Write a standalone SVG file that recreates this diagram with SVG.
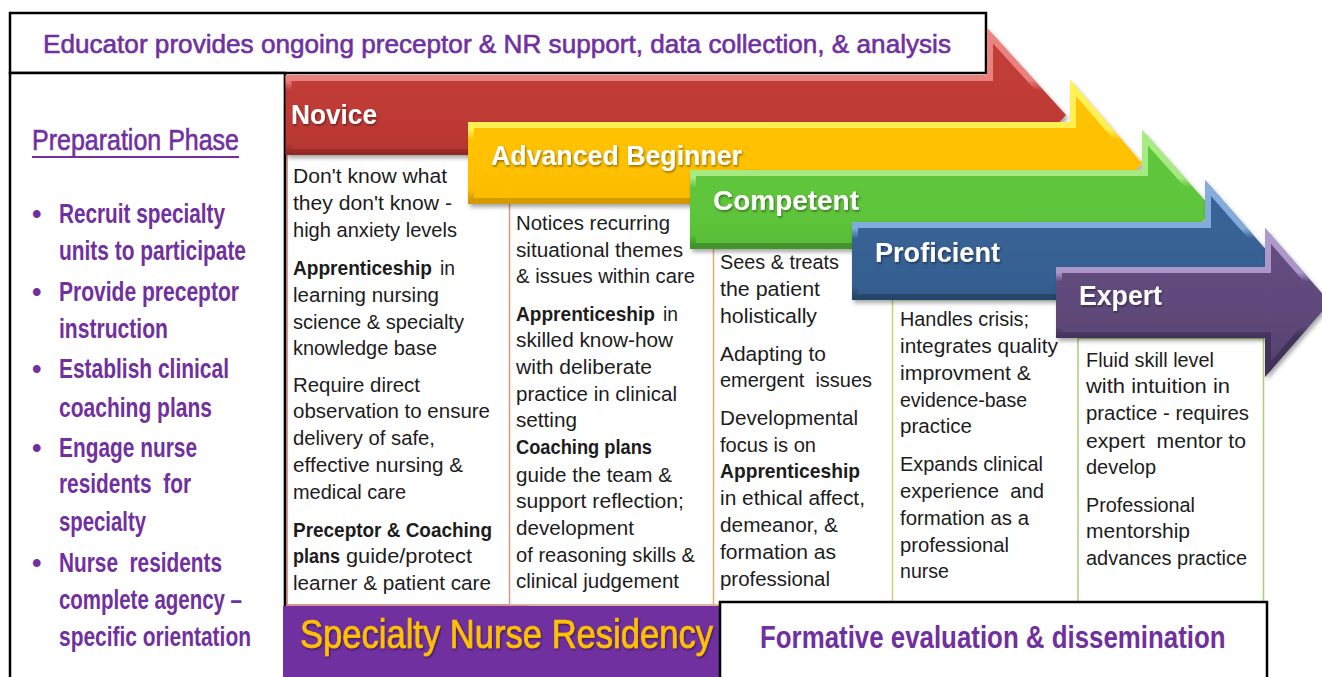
<svg xmlns="http://www.w3.org/2000/svg" xmlns:xlink="http://www.w3.org/1999/xlink" width="1322" height="677" viewBox="0 0 1322 677">
  <style>
    .t { font-family: 'Liberation Sans', Arial, sans-serif; font-size: 20.5px; fill: #1c1c1c; }
    .b { font-weight: bold; }
    .pre { white-space: pre; }
    .lab { font-family: 'Liberation Sans', Arial, sans-serif; font-weight: bold; font-size: 27px; fill: #ffffff; }
    .nar { font-family: 'Liberation Sans Narrow', 'Liberation Sans', Arial, sans-serif; }
    .prep { font-size: 27px; font-weight: bold; fill: #7030A0; }
    .heavy { stroke: #7030A0; stroke-width: 0.6; }
    .frame { fill: #ffffff; stroke: #000000; stroke-width: 2.5; }
    .box { fill: #ffffff; stroke-width: 1.5; }
  </style>
  <defs>
    <filter id="shadow" x="-5%" y="-10%" width="115%" height="130%">
      <feDropShadow dx="2" dy="3" stdDeviation="2" flood-color="#000" flood-opacity="0.35"/>
    </filter>
    <filter id="tshadow" x="-5%" y="-20%" width="110%" height="150%">
      <feDropShadow dx="1" dy="1.5" stdDeviation="0.8" flood-color="#000" flood-opacity="0.45"/>
    </filter>

    <!-- arrow outlines -->
    <path id="arrRed" d="M285.5,75 H987 V28 L1066,115 L987,202 V155 H285.5 Z"/>
    <path id="arrYellow" d="M468,122 H1070 V80 L1142,163 L1070,246 V204 H468 Z"/>
    <path id="arrGreen" d="M690,170 H1142 V130 L1213,209.5 L1142,289 V249 H690 Z"/>
    <path id="arrBlue" d="M852,222 H1205 V180 L1276,261 L1205,342 V300 H852 Z"/>
    <path id="arrPurple" d="M1056,267 H1265 V228 L1330,302.5 L1265,377 V338 H1056 Z"/>

    <clipPath id="clipRed"><use xlink:href="#arrRed"/></clipPath>
    <clipPath id="clipYellow"><use xlink:href="#arrYellow"/></clipPath>
    <clipPath id="clipGreen"><use xlink:href="#arrGreen"/></clipPath>
    <clipPath id="clipBlue"><use xlink:href="#arrBlue"/></clipPath>
    <clipPath id="clipPurple"><use xlink:href="#arrPurple"/></clipPath>

    <!-- body fills -->
    <linearGradient id="fRed" x1="0" y1="0" x2="0" y2="1">
      <stop offset="0" stop-color="#C4403B"/><stop offset="0.55" stop-color="#BE3934"/><stop offset="1" stop-color="#A9302C"/>
    </linearGradient>
    <linearGradient id="fYellow" x1="0" y1="0" x2="0" y2="1">
      <stop offset="0" stop-color="#FFC400"/><stop offset="0.55" stop-color="#FFC000"/><stop offset="1" stop-color="#F2B200"/>
    </linearGradient>
    <linearGradient id="fGreen" x1="0" y1="0" x2="0" y2="1">
      <stop offset="0" stop-color="#62C83F"/><stop offset="0.55" stop-color="#5DC43A"/><stop offset="1" stop-color="#52B133"/>
    </linearGradient>
    <linearGradient id="fBlue" x1="0" y1="0" x2="0" y2="1">
      <stop offset="0" stop-color="#3A6698"/><stop offset="0.55" stop-color="#366092"/><stop offset="1" stop-color="#2E5381"/>
    </linearGradient>
    <linearGradient id="fPurple" x1="0" y1="0" x2="0" y2="1">
      <stop offset="0" stop-color="#654F80"/><stop offset="0.55" stop-color="#5F497A"/><stop offset="1" stop-color="#54406C"/>
    </linearGradient>

    <!-- bevel edges: light on upper faces, dark on lower faces -->
    <linearGradient id="eRed" x1="0" y1="0" x2="0" y2="1">
      <stop offset="0" stop-color="#F28C88" stop-opacity="0.9"/><stop offset="0.3" stop-color="#F28C88" stop-opacity="0.85"/>
      <stop offset="0.36" stop-color="#F28C88" stop-opacity="0"/><stop offset="0.66" stop-color="#7A201D" stop-opacity="0"/>
      <stop offset="0.72" stop-color="#7A201D" stop-opacity="0.6"/><stop offset="1" stop-color="#7A201D" stop-opacity="0.6"/>
    </linearGradient>
    <linearGradient id="eYellow" x1="0" y1="0" x2="0" y2="1">
      <stop offset="0" stop-color="#FFF45C" stop-opacity="0.95"/><stop offset="0.3" stop-color="#FFF45C" stop-opacity="0.9"/>
      <stop offset="0.36" stop-color="#FFF45C" stop-opacity="0"/><stop offset="0.66" stop-color="#B88500" stop-opacity="0"/>
      <stop offset="0.72" stop-color="#B88500" stop-opacity="0.6"/><stop offset="1" stop-color="#B88500" stop-opacity="0.6"/>
    </linearGradient>
    <linearGradient id="eGreen" x1="0" y1="0" x2="0" y2="1">
      <stop offset="0" stop-color="#B2F08C" stop-opacity="0.9"/><stop offset="0.3" stop-color="#B2F08C" stop-opacity="0.85"/>
      <stop offset="0.36" stop-color="#B2F08C" stop-opacity="0"/><stop offset="0.66" stop-color="#357A20" stop-opacity="0"/>
      <stop offset="0.72" stop-color="#357A20" stop-opacity="0.6"/><stop offset="1" stop-color="#357A20" stop-opacity="0.6"/>
    </linearGradient>
    <linearGradient id="eBlue" x1="0" y1="0" x2="0" y2="1">
      <stop offset="0" stop-color="#8FB7E6" stop-opacity="0.9"/><stop offset="0.3" stop-color="#8FB7E6" stop-opacity="0.85"/>
      <stop offset="0.36" stop-color="#8FB7E6" stop-opacity="0"/><stop offset="0.66" stop-color="#1C3554" stop-opacity="0"/>
      <stop offset="0.72" stop-color="#1C3554" stop-opacity="0.6"/><stop offset="1" stop-color="#1C3554" stop-opacity="0.6"/>
    </linearGradient>
    <linearGradient id="ePurple" x1="0" y1="0" x2="0" y2="1">
      <stop offset="0" stop-color="#B9A3D6" stop-opacity="0.9"/><stop offset="0.3" stop-color="#B9A3D6" stop-opacity="0.85"/>
      <stop offset="0.36" stop-color="#B9A3D6" stop-opacity="0"/><stop offset="0.66" stop-color="#35274A" stop-opacity="0"/>
      <stop offset="0.72" stop-color="#35274A" stop-opacity="0.6"/><stop offset="1" stop-color="#35274A" stop-opacity="0.6"/>
    </linearGradient>
  </defs>

  <rect x="0" y="0" width="1322" height="677" fill="#ffffff"/>

  <!-- top banner -->
  <g id="banner">
    <rect class="frame" x="10" y="13" width="976" height="60"/>
    <text class="nar heavy" x="43" y="53" font-size="26" fill="#7030A0" textLength="908" lengthAdjust="spacingAndGlyphs">Educator provides ongoing preceptor &amp; NR support, data collection, &amp; analysis</text>
  </g>

  <!-- preparation phase column -->
  <g id="prep-phase">
    <rect class="frame" x="10" y="73" width="275" height="607" stroke-width="2.2"/>
    <text class="nar heavy" x="32" y="150" font-size="29" fill="#7030A0" textLength="207" lengthAdjust="spacingAndGlyphs">Preparation Phase</text>
    <line x1="32" y1="157" x2="239" y2="157" stroke="#7030A0" stroke-width="2"/>
    <text class="nar prep" x="32" y="223">•</text>
    <text class="nar prep" x="59" y="223" textLength="166" lengthAdjust="spacingAndGlyphs">Recruit specialty</text>
    <text class="nar prep" x="59" y="260" textLength="187" lengthAdjust="spacingAndGlyphs">units to participate</text>
    <text class="nar prep" x="32" y="301">•</text>
    <text class="nar prep" x="59" y="301" textLength="180" lengthAdjust="spacingAndGlyphs">Provide preceptor</text>
    <text class="nar prep" x="59" y="338" textLength="109" lengthAdjust="spacingAndGlyphs">instruction</text>
    <text class="nar prep" x="32" y="378">•</text>
    <text class="nar prep" x="59" y="378" textLength="170" lengthAdjust="spacingAndGlyphs">Establish clinical</text>
    <text class="nar prep" x="59" y="417" textLength="153" lengthAdjust="spacingAndGlyphs">coaching plans</text>
    <text class="nar prep" x="32" y="457">•</text>
    <text class="nar prep" x="59" y="457" textLength="138" lengthAdjust="spacingAndGlyphs">Engage nurse</text>
    <text class="nar prep pre" x="59" y="493" textLength="132" lengthAdjust="spacingAndGlyphs">residents  for</text>
    <text class="nar prep" x="59" y="531" textLength="87" lengthAdjust="spacingAndGlyphs">specialty</text>
    <text class="nar prep" x="32" y="572">•</text>
    <text class="nar prep pre" x="59" y="572" textLength="163" lengthAdjust="spacingAndGlyphs">Nurse  residents</text>
    <text class="nar prep" x="59" y="609" textLength="183" lengthAdjust="spacingAndGlyphs">complete agency –</text>
    <text class="nar prep" x="59" y="646" textLength="192" lengthAdjust="spacingAndGlyphs">specific orientation</text>
  </g>

  <!-- stage 1: Novice -->
  <g id="stage-novice">
    <rect class="box" x="287" y="150" width="240" height="455" stroke="#C9756F"/>
    <line x1="285" y1="73" x2="285" y2="606" stroke="#000" stroke-width="2.2"/>
    <text class="t" x="293" y="183" textLength="154" lengthAdjust="spacingAndGlyphs">Don't know what</text>
    <text class="t" x="293" y="210" textLength="159" lengthAdjust="spacingAndGlyphs">they don't know -</text>
    <text class="t" x="293" y="237" textLength="164" lengthAdjust="spacingAndGlyphs">high anxiety levels</text>
    <text class="t b" x="293" y="275" font-size="19" textLength="139" lengthAdjust="spacingAndGlyphs">Apprenticeship</text>
    <text class="t" x="440" y="275" textLength="15" lengthAdjust="spacingAndGlyphs">in</text>
    <text class="t" x="293" y="302" textLength="146" lengthAdjust="spacingAndGlyphs">learning nursing</text>
    <text class="t" x="293" y="329" textLength="171" lengthAdjust="spacingAndGlyphs">science &amp; specialty</text>
    <text class="t" x="293" y="355" textLength="144" lengthAdjust="spacingAndGlyphs">knowledge base</text>
    <text class="t" x="293" y="392" textLength="127" lengthAdjust="spacingAndGlyphs">Require direct</text>
    <text class="t" x="293" y="418" textLength="197" lengthAdjust="spacingAndGlyphs">observation to ensure</text>
    <text class="t" x="293" y="445" textLength="142" lengthAdjust="spacingAndGlyphs">delivery of safe,</text>
    <text class="t" x="293" y="472" textLength="170" lengthAdjust="spacingAndGlyphs">effective nursing &amp;</text>
    <text class="t" x="293" y="499" textLength="113" lengthAdjust="spacingAndGlyphs">medical care</text>
    <text class="t b" x="293" y="537" textLength="199" lengthAdjust="spacingAndGlyphs">Preceptor &amp; Coaching</text>
    <text class="t b" x="293" y="563" textLength="47" lengthAdjust="spacingAndGlyphs">plans</text>
    <text class="t" x="346" y="563" textLength="126" lengthAdjust="spacingAndGlyphs">guide/protect</text>
    <text class="t" x="293" y="590" textLength="198" lengthAdjust="spacingAndGlyphs">learner &amp; patient care</text>

    <use xlink:href="#arrRed" fill="url(#fRed)" filter="url(#shadow)"/>
    <use xlink:href="#arrRed" fill="none" stroke="url(#eRed)" stroke-width="12" clip-path="url(#clipRed)"/>
    <text class="lab" x="291" y="124" textLength="86" lengthAdjust="spacingAndGlyphs" filter="url(#tshadow)">Novice</text>
  </g>

  <!-- stage 2: Advanced Beginner -->
  <g id="stage-advanced-beginner">
    <rect class="box" x="509.5" y="202" width="215" height="403" stroke="#D49A85"/>
    <text class="t" x="516" y="230" textLength="154" lengthAdjust="spacingAndGlyphs">Notices recurring</text>
    <text class="t" x="516" y="257" textLength="167" lengthAdjust="spacingAndGlyphs">situational themes</text>
    <text class="t" x="516" y="283" textLength="179" lengthAdjust="spacingAndGlyphs">&amp; issues within care</text>
    <text class="t b" x="516" y="321" font-size="19" textLength="139" lengthAdjust="spacingAndGlyphs">Apprenticeship</text>
    <text class="t" x="663" y="321" textLength="15" lengthAdjust="spacingAndGlyphs">in</text>
    <text class="t" x="516" y="347" textLength="157" lengthAdjust="spacingAndGlyphs">skilled know-how</text>
    <text class="t" x="516" y="374" textLength="136" lengthAdjust="spacingAndGlyphs">with deliberate</text>
    <text class="t" x="516" y="401" textLength="161" lengthAdjust="spacingAndGlyphs">practice in clinical</text>
    <text class="t" x="516" y="427" textLength="61" lengthAdjust="spacingAndGlyphs">setting</text>
    <text class="t b" x="516" y="454" textLength="136" lengthAdjust="spacingAndGlyphs">Coaching plans</text>
    <text class="t" x="516" y="482" textLength="156" lengthAdjust="spacingAndGlyphs">guide the team &amp;</text>
    <text class="t" x="516" y="508" textLength="168" lengthAdjust="spacingAndGlyphs">support reflection;</text>
    <text class="t" x="516" y="535" textLength="118" lengthAdjust="spacingAndGlyphs">development</text>
    <text class="t" x="516" y="562" textLength="179" lengthAdjust="spacingAndGlyphs">of reasoning skills &amp;</text>
    <text class="t" x="516" y="588" textLength="163" lengthAdjust="spacingAndGlyphs">clinical judgement</text>

    <use xlink:href="#arrYellow" fill="url(#fYellow)" filter="url(#shadow)"/>
    <use xlink:href="#arrYellow" fill="none" stroke="url(#eYellow)" stroke-width="12" clip-path="url(#clipYellow)"/>
    <text class="lab" x="491" y="165" textLength="251" lengthAdjust="spacingAndGlyphs" filter="url(#tshadow)">Advanced Beginner</text>
  </g>

  <!-- stage 3: Competent -->
  <g id="stage-competent">
    <rect class="box" x="713.5" y="243.5" width="190" height="361.5" stroke="#DDB071"/>
    <text class="t" x="720" y="269" textLength="119" lengthAdjust="spacingAndGlyphs">Sees &amp; treats</text>
    <text class="t" x="720" y="296" textLength="100" lengthAdjust="spacingAndGlyphs">the patient</text>
    <text class="t" x="720" y="323" textLength="97" lengthAdjust="spacingAndGlyphs">holistically</text>
    <text class="t" x="720" y="361" textLength="106" lengthAdjust="spacingAndGlyphs">Adapting to</text>
    <text class="t pre" x="720" y="387" textLength="152" lengthAdjust="spacingAndGlyphs">emergent  issues</text>
    <text class="t" x="720" y="425" textLength="138" lengthAdjust="spacingAndGlyphs">Developmental</text>
    <text class="t" x="720" y="452" textLength="96" lengthAdjust="spacingAndGlyphs">focus is on</text>
    <text class="t b" x="720" y="478" textLength="140" lengthAdjust="spacingAndGlyphs">Apprenticeship</text>
    <text class="t" x="720" y="505" textLength="145" lengthAdjust="spacingAndGlyphs">in ethical affect,</text>
    <text class="t" x="720" y="532" textLength="118" lengthAdjust="spacingAndGlyphs">demeanor, &amp;</text>
    <text class="t" x="720" y="559" textLength="116" lengthAdjust="spacingAndGlyphs">formation as</text>
    <text class="t" x="720" y="586" textLength="110" lengthAdjust="spacingAndGlyphs">professional</text>

    <use xlink:href="#arrGreen" fill="url(#fGreen)" filter="url(#shadow)"/>
    <use xlink:href="#arrGreen" fill="none" stroke="url(#eGreen)" stroke-width="12" clip-path="url(#clipGreen)"/>
    <text class="lab" x="713" y="210" textLength="146" lengthAdjust="spacingAndGlyphs" filter="url(#tshadow)">Competent</text>
  </g>

  <!-- stage 4: Proficient -->
  <g id="stage-proficient">
    <rect class="box" x="892.5" y="299.5" width="196" height="305.5" stroke="#C4D27A"/>
    <text class="t" x="900" y="326" textLength="129" lengthAdjust="spacingAndGlyphs">Handles crisis;</text>
    <text class="t" x="900" y="353" textLength="158" lengthAdjust="spacingAndGlyphs">integrates quality</text>
    <text class="t" x="900" y="380" textLength="131" lengthAdjust="spacingAndGlyphs">improvment &amp;</text>
    <text class="t" x="900" y="407" textLength="127" lengthAdjust="spacingAndGlyphs">evidence-base</text>
    <text class="t" x="900" y="433" textLength="72" lengthAdjust="spacingAndGlyphs">practice</text>
    <text class="t" x="900" y="471" textLength="143" lengthAdjust="spacingAndGlyphs">Expands clinical</text>
    <text class="t pre" x="900" y="498" textLength="144" lengthAdjust="spacingAndGlyphs">experience  and</text>
    <text class="t" x="900" y="525" textLength="129" lengthAdjust="spacingAndGlyphs">formation as a</text>
    <text class="t" x="900" y="552" textLength="109" lengthAdjust="spacingAndGlyphs">professional</text>
    <text class="t" x="900" y="578" textLength="49" lengthAdjust="spacingAndGlyphs">nurse</text>

    <use xlink:href="#arrBlue" fill="url(#fBlue)" filter="url(#shadow)"/>
    <use xlink:href="#arrBlue" fill="none" stroke="url(#eBlue)" stroke-width="12" clip-path="url(#clipBlue)"/>
    <text class="lab" x="875" y="262" textLength="125" lengthAdjust="spacingAndGlyphs" filter="url(#tshadow)">Proficient</text>
  </g>

  <!-- stage 5: Expert -->
  <g id="stage-expert">
    <rect class="box" x="1078" y="338.5" width="185.5" height="266.5" stroke="#A9CF7A"/>
    <text class="t" x="1086" y="367" textLength="128" lengthAdjust="spacingAndGlyphs">Fluid skill level</text>
    <text class="t" x="1086" y="393" textLength="144" lengthAdjust="spacingAndGlyphs">with intuition in</text>
    <text class="t" x="1086" y="420" textLength="163" lengthAdjust="spacingAndGlyphs">practice - requires</text>
    <text class="t pre" x="1086" y="448" textLength="160" lengthAdjust="spacingAndGlyphs">expert  mentor to</text>
    <text class="t" x="1086" y="474" textLength="70" lengthAdjust="spacingAndGlyphs">develop</text>
    <text class="t" x="1086" y="512" textLength="109" lengthAdjust="spacingAndGlyphs">Professional</text>
    <text class="t" x="1086" y="538" textLength="104" lengthAdjust="spacingAndGlyphs">mentorship</text>
    <text class="t" x="1086" y="565" textLength="161" lengthAdjust="spacingAndGlyphs">advances practice</text>

    <use xlink:href="#arrPurple" fill="url(#fPurple)" filter="url(#shadow)"/>
    <use xlink:href="#arrPurple" fill="none" stroke="url(#ePurple)" stroke-width="12" clip-path="url(#clipPurple)"/>
    <text class="lab" x="1079" y="305" textLength="83" lengthAdjust="spacingAndGlyphs" filter="url(#tshadow)">Expert</text>
  </g>

  <!-- bottom bars -->
  <g id="residency">
    <rect x="283" y="606" width="437" height="74" fill="#7030A0"/>
    <text class="nar" x="300" y="648" font-size="40" fill="#FFC000" stroke="#FFC000" stroke-width="0.7" textLength="413" lengthAdjust="spacingAndGlyphs" filter="url(#tshadow)">Specialty Nurse Residency</text>
  </g>
  <g id="evaluation">
    <rect class="frame" x="720" y="602" width="547" height="77"/>
    <!-- horizontally condensed bold title -->
    <text class="nar" transform="translate(760,648) scale(0.8,1)" x="0" y="0" font-size="32" font-weight="bold" fill="#7030A0" textLength="582" lengthAdjust="spacingAndGlyphs">Formative evaluation &amp; dissemination</text>
  </g>
</svg>
